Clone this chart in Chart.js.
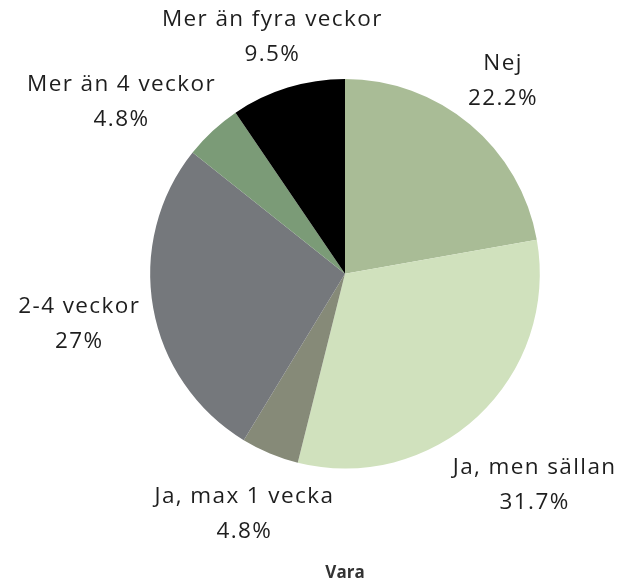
<!DOCTYPE html>
<html lang="sv">
<head>
    <meta charset="UTF-8">
    <title>Vara</title>
    <script src="https://cdn.jsdelivr.net/npm/chart.js"></script>
    <style>
        html, body { margin: 0; padding: 0; background: #fff; }
        .wrap { width: 628px; height: 584px; }
    </style>
</head>
<body>
    <div class="wrap"><canvas id="pieChart" width="628" height="584"></canvas></div>

    <script>
        const categories = ['Nej', 'Ja, men sällan', 'Ja, max 1 vecka', '2-4 veckor', 'Mer än 4 veckor', 'Mer än fyra veckor'];
        const shares = [22.2, 31.7, 4.8, 27, 4.8, 9.5];
        const sliceColors = ['#a9bc96', '#d0e1bd', '#868a78', '#75787c', '#7b9b77', '#000000'];

        // small hand nudges for the outside labels (px), on top of the bisector rule
        const labelNudge = [[4, -9], [-6, 36], [13, 19], [-4, 8], [-20, 4], [20, -8]];

        const labelFont = '400 22.5px "Open Sans"';
        const lineGap = 35;

        const outsideLabels = {
            id: 'outsideLabels',
            afterDatasetsDraw(chart) {
                const ctx = chart.ctx;
                const arcs = chart.getDatasetMeta(0).data;
                ctx.save();
                ctx.font = labelFont;
                ctx.letterSpacing = '1.4px';
                ctx.fillStyle = '#1e1e1e';
                ctx.textAlign = 'center';
                ctx.textBaseline = 'middle';
                arcs.forEach((arc, i) => {
                    const p = arc.getProps(['x', 'y', 'startAngle', 'endAngle', 'outerRadius'], true);
                    const mid = (p.startAngle + p.endAngle) / 2;
                    const dx = Math.cos(mid), dy = Math.sin(mid);
                    const line1 = categories[i];
                    const line2 = shares[i] + '%';
                    const w = Math.max(ctx.measureText(line1).width, ctx.measureText(line2).width);
                    const h = lineGap * 2;
                    const r = p.outerRadius + 10;
                    const cx = p.x + dx * r + dx * w / 2 + labelNudge[i][0];
                    const cy = p.y + dy * r + dy * h / 2 + labelNudge[i][1];
                    ctx.fillText(line1, cx, cy - lineGap / 2);
                    ctx.fillText(line2, cx, cy + lineGap / 2);
                });
                ctx.restore();
            }
        };

        new Chart(document.getElementById('pieChart'), {
            type: 'pie',
            data: {
                labels: categories,
                datasets: [{
                    data: shares,
                    backgroundColor: sliceColors,
                    borderWidth: 0
                }]
            },
            options: {
                responsive: false,
                animation: false,
                layout: { padding: { left: 150, right: 88, top: 79, bottom: 0 } },
                plugins: {
                    legend: { display: false },
                    tooltip: { enabled: false },
                    title: {
                        display: true,
                        text: 'Vara',
                        position: 'bottom',
                        color: '#333',
                        font: { family: 'Open Sans', size: 17, weight: 'bold' },
                        padding: { top: 94, bottom: 1 }
                    }
                }
            },
            plugins: [outsideLabels]
        });
    </script>
</body>
</html>
